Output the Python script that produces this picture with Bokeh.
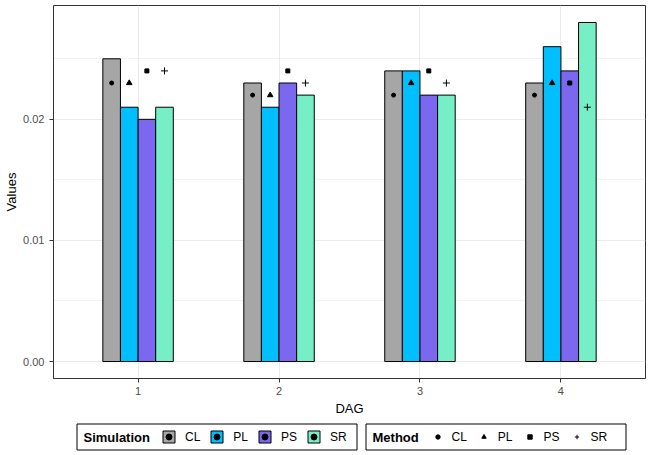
from bokeh.plotting import figure
from bokeh.layouts import column
from bokeh.models import (FixedTicker, Legend, LegendItem, ColumnDataSource,
                          Range1d, PrintfTickFormatter, Label)
from bokeh.transform import dodge
from bokeh.embed import file_html
from bokeh.resources import INLINE

# ---------------- data ----------------
dags = [1, 2, 3, 4]
simulations = ["CL", "PL", "PS", "SR"]
methods = ["CL", "PL", "PS", "SR"]

sim_cl = [0.025, 0.023, 0.024, 0.023]
sim_pl = [0.021, 0.021, 0.024, 0.026]
sim_ps = [0.020, 0.023, 0.022, 0.024]
sim_sr = [0.021, 0.022, 0.022, 0.028]

met_cl = [0.023, 0.022, 0.022, 0.022]
met_pl = [0.023, 0.022, 0.023, 0.023]
met_ps = [0.024, 0.024, 0.024, 0.023]
met_sr = [0.024, 0.023, 0.023, 0.021]

y_ticks = [0.0, 0.01, 0.02]
y_minor = [0.005, 0.015, 0.025]

sim_colors = ["#A6A6A6", "#00BFFF", "#7B68EE", "#76EEC6"]
met_markers = ["circle", "triangle", "square", "cross"]
met_sizes = [4, 5.5, 4, 7]

FONT = "Liberation Sans"
W = 650
MAIN_H = 418
LEG_H = 37
BL, BR = 53, 5

# ---------------- main figure ----------------
p = figure(width=W, height=MAIN_H, output_backend="svg", toolbar_location=None,
           x_range=Range1d(0.4, 4.6), y_range=Range1d(-0.0014, 0.0294),
           min_border_left=BL, min_border_right=BR, min_border_top=5,
           min_border_bottom=38)
p.background_fill_color = "white"
p.border_fill_color = "white"
p.outline_line_color = "#333333"
p.outline_line_width = 1

dodge_w = 0.5
n = len(simulations)
bar_w = dodge_w / n
offsets = [-dodge_w / 2 + bar_w * (i + 0.5) for i in range(n)]

src = ColumnDataSource(dict(
    dag=dags,
    sim_CL=sim_cl, sim_PL=sim_pl, sim_PS=sim_ps, sim_SR=sim_sr,
    met_CL=met_cl, met_PL=met_pl, met_PS=met_ps, met_SR=met_sr,
))

for i, s in enumerate(simulations):
    p.vbar(x=dodge("dag", offsets[i]), top="sim_" + s, bottom=0,
           width=bar_w, source=src, fill_color=sim_colors[i],
           line_color="black", line_width=1)

for i, m in enumerate(methods):
    p.scatter(x=dodge("dag", offsets[i]), y="met_" + m, source=src,
              marker=met_markers[i], size=met_sizes[i],
              fill_color="black", line_color="black", line_width=1)

# axes
p.xaxis.ticker = FixedTicker(ticks=dags)
p.xaxis.axis_label = "DAG"
p.yaxis.ticker = FixedTicker(ticks=y_ticks, minor_ticks=y_minor)
p.yaxis.formatter = PrintfTickFormatter(format="%.2f")
p.yaxis.axis_label = "Values"
for ax in (p.xaxis, p.yaxis):
    ax.axis_line_color = "#333333"
    ax.major_tick_line_color = "#333333"
    ax.major_tick_in = 0
    ax.major_tick_out = 4
    ax.minor_tick_line_color = None
    ax.major_label_text_font = FONT
    ax.major_label_text_font_size = "11px"
    ax.major_label_text_color = "#4D4D4D"
    ax.axis_label_text_font = FONT
    ax.axis_label_text_font_size = "13px"
    ax.axis_label_text_font_style = "normal"
    ax.axis_label_text_color = "black"
p.xaxis.major_label_standoff = 4
p.xaxis.axis_label_standoff = 3
p.yaxis.major_label_standoff = 5
p.yaxis.axis_label_standoff = 1

# grid
p.xgrid.ticker = FixedTicker(ticks=dags)
p.xgrid.grid_line_color = "#EBEBEB"
p.xgrid.grid_line_width = 1
p.ygrid.ticker = FixedTicker(ticks=y_ticks, minor_ticks=y_minor)
p.ygrid.grid_line_color = "#EBEBEB"
p.ygrid.grid_line_width = 1
p.ygrid.minor_grid_line_color = "#EBEBEB"
p.ygrid.minor_grid_line_width = 0.6

# ---------------- legend strip (pixel coordinates) ----------------
lf = figure(width=W, height=LEG_H, output_backend="svg", toolbar_location=None,
            x_range=Range1d(BL, W - BR), y_range=Range1d(0, LEG_H),
            x_axis_location=None, y_axis_location=None,
            min_border_left=BL, min_border_right=BR, min_border_top=0,
            min_border_bottom=0)
lf.outline_line_color = None
lf.grid.visible = False
lf.background_fill_color = "white"
lf.border_fill_color = "white"

# legend boxes: (left, right) in page pixels, titles and first key x
box_bottom, box_top = 5.5, 31.5
box_mid = (box_bottom + box_top) / 2
legend_boxes = [
    dict(left=76.5, right=356.5, title="Simulation", title_x=83, keys_x=161),
    dict(left=365.5, right=625.5, title="Method", title_x=372, keys_x=431.5),
]
for b in legend_boxes:
    lf.quad(left=[b["left"]], right=[b["right"]], bottom=[box_bottom],
            top=[box_top], fill_color="white", line_color="black",
            line_width=1)
    lf.add_layout(Label(x=b["title_x"], y=box_mid, text=b["title"],
                        text_font=FONT, text_font_size="13px",
                        text_font_style="bold", text_color="black",
                        text_baseline="middle", text_align="left"))

# key renderers: one off-screen sample each, used only for legend glyphs
OFF = -1000
key_bars = []
for i, s in enumerate(simulations):
    key_bars.append(lf.vbar(x=[OFF], top=[OFF + 1], bottom=[OFF], width=0.1,
                            fill_color=sim_colors[i], line_color="black",
                            line_width=1))
key_pts = []
for i, m in enumerate(methods):
    key_pts.append(lf.scatter(x=[OFF], y=[OFF], marker=met_markers[i],
                              size=met_sizes[i], fill_color="black",
                              line_color="black", line_width=1))


def style_legend(lg):
    lg.orientation = "horizontal"
    lg.label_text_font = FONT
    lg.label_text_font_size = "12px"
    lg.label_text_color = "black"
    lg.label_height = 15
    lg.label_width = 10
    lg.padding = 0
    lg.margin = 0
    lg.border_line_color = None
    lg.background_fill_alpha = 0


sim_items = [LegendItem(label=s, renderers=[key_bars[i], key_pts[0]])
             for i, s in enumerate(simulations)]
leg_sim = Legend(items=sim_items,
                 location=(legend_boxes[0]["keys_x"] - BL, box_mid - 7.5))
style_legend(leg_sim)
leg_sim.glyph_width = 15
leg_sim.glyph_height = 15
leg_sim.label_standoff = 9
leg_sim.spacing = 9

met_items = [LegendItem(label=m, renderers=[key_pts[i]])
             for i, m in enumerate(methods)]
leg_met = Legend(items=met_items,
                 location=(legend_boxes[1]["keys_x"] - BL, box_mid - 7.5))
style_legend(leg_met)
leg_met.glyph_width = 11
leg_met.glyph_height = 15
leg_met.label_standoff = 9
leg_met.spacing = 11

lf.add_layout(leg_sim, "center")
lf.add_layout(leg_met, "center")

layout = column(p, lf, spacing=0)
open("out.html", "w").write(file_html(layout, INLINE))
